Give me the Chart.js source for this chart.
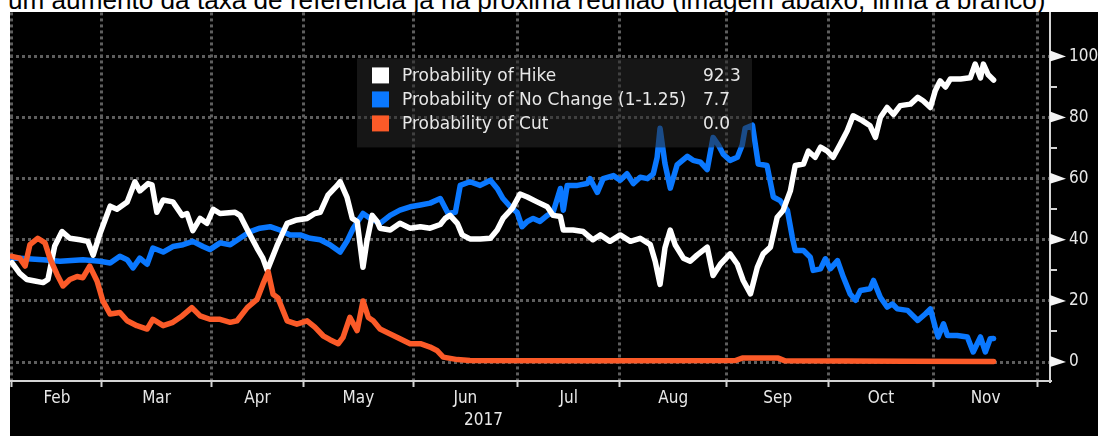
<!DOCTYPE html>
<html>
<head>
<meta charset="utf-8">
<script src="https://cdn.jsdelivr.net/npm/chart.js@4.4.0/dist/chart.umd.min.js"></script>
<style>
    html, body { margin: 0; padding: 0; background: #fff; width: 1098px; height: 436px; overflow: hidden; }
    #caption { position: absolute; left: 8px; top: -9px; font-family: "Liberation Sans", Arial, sans-serif; font-size: 22px; line-height: 22px; color: #000; white-space: nowrap; }
    #frame { position: absolute; left: 10px; top: 12px; width: 1088px; height: 424px; background: #000; }
</style>
</head>
<body>
<div id="caption">um aumento da taxa de referência já na próxima reunião (imagem abaixo, linha a branco)</div>
<div id="frame"><canvas id="chart" width="1088" height="424"></canvas></div>
<script>
'use strict';

// x values are trading days counted from 1 Feb 2017
const monthStarts = [0, 18.5, 41, 60, 82.5, 104, 125, 147, 168, 189.5, 211];
const monthNames = ['Feb', 'Mar', 'Apr', 'May', 'Jun', 'Jul', 'Aug', 'Sep', 'Oct', 'Nov'];
const yearLabel = '2017';
const yearPos = 97;

const yTicks = [0, 10, 20, 30, 40, 50, 60, 70, 80, 90, 100];
const yLabelled = [0, 20, 40, 60, 80, 100];

const seriesNames = ['Probability of Hike', 'Probability of No Change (1-1.25)', 'Probability of Cut'];
const lastValues = ['92.3', '7.7', '0.0'];

// Probability of Hike
const hike = [
    [0, 32.5], [1.6, 29], [3.1, 27], [4.7, 26.5], [6.4, 26], [7.4, 27], [8.8, 38], [10.3, 42.7], [11.9, 40.5],
    [14.0, 40], [15.6, 39.5], [16.7, 35], [18.1, 42], [20.2, 51], [21.6, 50], [23.7, 52.4], [25.3, 59], [26.3, 56],
    [28.0, 58.4], [28.8, 58], [29.8, 49], [31.1, 53], [33.1, 52.4], [35.0, 48], [36.0, 48.6], [37.2, 43], [38.7, 47],
    [40.1, 45.4], [41.4, 50], [42.8, 48.6], [45.9, 49], [46.9, 48], [48.6, 42.7], [50.4, 37.3], [51.6, 34], [52.5, 30],
    [54.5, 38], [56.6, 45.4], [58.6, 46.5], [60.7, 47], [62.3, 48.6], [63.4, 49], [65.0, 54.6], [66.9, 57.8], [67.5, 59],
    [68.9, 54], [70.0, 47], [71.0, 46], [72.2, 31], [73.0, 39.5], [74.1, 48], [75.1, 46], [75.7, 43.8], [77.8, 43.2],
    [79.8, 45.4], [81.9, 43.8], [84.0, 44.3], [86.0, 43.8], [88.1, 45], [89.1, 47], [90.1, 48], [91.6, 45.4], [92.6, 41.6],
    [94.2, 40.3], [96.3, 40.3], [98.4, 40.5], [99.8, 43.2], [101.0, 47], [102.9, 50.3], [104.5, 55], [106.0, 54],
    [108.0, 52.4], [110.1, 50.8], [111.3, 48], [112.8, 47.6], [113.4, 43.2], [115.4, 43.2], [117.5, 42.7], [119.5, 40],
    [121.0, 41.6], [123.0, 39.5], [125.1, 41.6], [127.2, 39.5], [129.2, 40.5], [131.3, 38.4], [132.3, 33], [133.3, 25.4],
    [134.3, 37.3], [135.4, 43.2], [136.4, 38.4], [138.1, 34], [139.5, 33], [140.9, 35], [143.0, 37.6], [144.2, 28.3],
    [145.7, 32], [147.7, 35.4], [149.2, 32], [150.4, 26.7], [151.9, 22.3], [153.3, 31], [154.5, 35.4], [156.0, 37.6],
    [157.4, 47.4], [158.6, 49.6], [160.1, 56], [161.1, 64.3], [162.8, 64.8], [163.8, 69], [165.2, 67], [166.3, 70.3],
    [167.7, 69], [168.9, 67], [170.4, 71.4], [171.8, 75.7], [173.0, 80.6], [174.9, 79], [176.5, 77.3], [177.6, 73.5],
    [178.6, 80], [180.0, 83.3], [181.3, 81], [182.7, 83.9], [184.8, 84.4], [186.3, 86.6], [187.4, 85.5], [188.9, 83.3],
    [189.9, 88.8], [190.9, 92], [192.0, 90], [193.0, 92.6], [195.1, 92.6], [197.1, 93], [198.1, 97.5], [199.2, 93],
    [199.8, 97.5], [200.8, 94], [201.9, 92.3]
];

// Probability of No Change (1-1.25)
const noChange = [
    [0, 34], [1.6, 34], [6.4, 33.5], [9.9, 33], [14.6, 33.5], [18.1, 33], [20.2, 32.4], [22.2, 34.6], [23.7, 33.5],
    [24.9, 30.8], [26.3, 34], [27.8, 32], [29.0, 37.3], [31.1, 36], [33.1, 37.8], [35.2, 38.4], [37.2, 39.5], [39.3, 37.8],
    [40.7, 36.8], [42.8, 39], [44.9, 38.4], [46.9, 40.5], [49.0, 42.7], [51.0, 43.8], [53.1, 44.3], [55.1, 43.2],
    [57.2, 41.6], [59.3, 41.6], [61.3, 40.5], [63.4, 40], [65.4, 38.4], [67.5, 36], [68.9, 39.5], [70.2, 43.8],
    [72.2, 48.6], [73.7, 47], [75.7, 45.4], [77.8, 48], [79.8, 49.7], [81.9, 50.8], [84.0, 51.4], [86.0, 52], [88.1, 53.5],
    [89.7, 48.6], [91.2, 49], [92.2, 57.8], [94.2, 59], [96.3, 57.8], [98.4, 59.5], [99.8, 56.8], [101.0, 53.5],
    [102.5, 50.8], [103.9, 49], [104.9, 44.3], [106.0, 46], [107.2, 47], [108.6, 46], [110.1, 48], [111.3, 49],
    [112.8, 56.8], [113.4, 49.7], [114.2, 57.8], [116.3, 57.8], [118.3, 58.4], [118.9, 60], [120.4, 55.5], [121.6, 60],
    [123.7, 61], [125.1, 59.5], [126.5, 61.6], [127.8, 58.4], [129.2, 60.5], [130.7, 60], [131.9, 61.6], [132.7, 67],
    [133.3, 76.5], [134.3, 65], [135.4, 56.9], [136.8, 64.5], [138.9, 67.3], [140.1, 66], [141.6, 65.4], [143.0, 63],
    [144.2, 73.5], [145.3, 71], [146.3, 68], [147.7, 66], [149.2, 67], [150.2, 71], [150.8, 76.5], [152.3, 77.5],
    [153.5, 64.8], [155.3, 64.3], [156.6, 54], [158.0, 52.8], [159.5, 49.6], [160.5, 40.8], [161.1, 36.5], [162.8, 36.5],
    [164.2, 34.3], [164.8, 30], [166.3, 30.5], [167.3, 33.8], [168.3, 30.5], [169.8, 33.2], [171.0, 27.8], [172.4, 22.3],
    [173.5, 20.2], [174.5, 23.4], [176.5, 24], [177.2, 26.7], [178.6, 21.2], [180.0, 18], [181.1, 19], [182.1, 17.4],
    [184.2, 16.9], [186.3, 13.6], [187.9, 15.8], [188.9, 17.4], [189.9, 11.4], [190.5, 8.2], [191.6, 12.5], [192.4, 8.7],
    [194.4, 8.7], [196.5, 8.2], [197.7, 3.3], [199.2, 8.2], [200.2, 3.3], [201.2, 7.6], [201.9, 7.7]
];

// Probability of Cut
const cut = [
    [0, 34.6], [1.6, 34], [2.7, 31.4], [3.7, 38.4], [5.3, 40.5], [6.8, 39], [7.8, 34], [9.3, 28.6], [10.5, 24.9],
    [11.9, 27], [13.4, 28], [14.6, 27.6], [16.0, 31.4], [17.5, 26.5], [18.7, 20], [20.2, 15.7], [22.2, 16.2], [23.7, 13.5],
    [25.7, 11.9], [27.8, 10.8], [29.0, 14], [31.1, 11.9], [33.1, 13], [35.0, 15.1], [37.0, 17.8], [38.7, 15.1], [40.7, 14],
    [42.8, 14], [44.9, 13], [46.3, 13.5], [48.4, 17.8], [50.4, 20.5], [51.6, 25.4], [52.7, 29.5], [53.7, 22.2], [54.7, 21],
    [56.6, 13.5], [58.6, 12.4], [60.7, 13.5], [62.3, 11.4], [64.0, 8.6], [65.4, 7.3], [67.1, 6], [68.1, 8.1], [69.5, 14.6],
    [71.0, 10.3], [72.2, 20], [73.3, 14.6], [74.3, 13.5], [75.7, 10.8], [77.8, 9.2], [79.8, 7.6], [81.9, 6], [84.0, 6],
    [86.0, 4.9], [87.4, 3.8], [88.7, 1.6], [91.6, 0.8], [94.2, 0.5], [121.0, 0.4], [148.8, 0.5], [150.2, 1.3],
    [157.6, 1.3], [159.0, 0.4], [184.0, 0.3], [201.9, 0.2]
];

const colors = {
    hike: '#ffffff',
    noChange: '#0a78ff',
    cut: '#fb5a28',
    grid: '#5e5e5e',
    axis: '#d4d4d4',
    text: '#e8e8e8',
};

const axisFont = "'DejaVu Sans Condensed', 'DejaVu Sans', sans-serif";
const legendFont = "'DejaVu Sans', sans-serif";

// fit the clipped caption line to its width in the picture
let caption = document.getElementById('caption');
let capSize = 22 * 1038 / caption.getBoundingClientRect().width;
caption.style.fontSize = capSize.toFixed(2) + 'px';
caption.style.lineHeight = capSize.toFixed(2) + 'px';
caption.style.top = (9.5 - capSize * 0.8465).toFixed(2) + 'px';

let toPoints = function (arr) {
    return arr.map(p => ({ x: p[0], y: p[1] }));
};

let lineStyle = {
    borderWidth: 5.5,
    pointRadius: 0,
    tension: 0,
    fill: false,
    borderJoinStyle: 'round',
    borderCapStyle: 'round',
};

// tick marks and triangles on the value axis, the year under the months, the legend box
const decorations = {
    id: 'decorations',
    afterDatasetsDraw(chart) {
        let ctx = chart.ctx;
        let area = chart.chartArea;
        let bx = area.left + 347, by = area.top + 46;
        ctx.save();
        ctx.fillStyle = 'rgba(40, 40, 40, 0.55)';
        ctx.fillRect(bx, by, 395, 89);
        let swatches = [colors.hike, colors.noChange, colors.cut];
        ctx.font = '17px ' + legendFont;
        ctx.textBaseline = 'middle';
        ctx.textAlign = 'left';
        for (let i = 0; i < seriesNames.length; i++) {
            let cy = by + 17 + i * 24;
            ctx.fillStyle = swatches[i];
            ctx.fillRect(bx + 15, cy - 8, 17, 16);
            ctx.fillStyle = colors.text;
            ctx.fillText(seriesNames[i], bx + 45, cy + 1);
            ctx.fillText(lastValues[i], bx + 346, cy + 1);
        }
        ctx.restore();
    },
    afterDraw(chart) {
        let ctx = chart.ctx;
        let x = chart.scales.x;
        let y = chart.scales.y;
        ctx.save();
        ctx.strokeStyle = colors.axis;
        ctx.lineWidth = 2;
        yTicks.forEach(v => {
            let py = Math.round(y.getPixelForValue(v));
            ctx.beginPath();
            ctx.moveTo(y.left, py);
            ctx.lineTo(y.left + 7, py);
            ctx.stroke();
        });
        ctx.fillStyle = '#f4f4f4';
        yLabelled.forEach(v => {
            let py = y.getPixelForValue(v);
            ctx.beginPath();
            ctx.moveTo(y.left, py - 6);
            ctx.lineTo(y.left + 16, py);
            ctx.lineTo(y.left, py + 5);
            ctx.closePath();
            ctx.fill();
        });
        ctx.fillStyle = colors.text;
        ctx.font = '17px ' + axisFont;
        ctx.textAlign = 'center';
        ctx.textBaseline = 'middle';
        ctx.fillText(yearLabel, x.getPixelForValue(yearPos), chart.chartArea.bottom + 40);
        ctx.restore();
    }
};

let ctx = document.getElementById('chart').getContext('2d');
let myChart = new Chart(ctx, {
    type: 'line',
    data: {
        datasets: [
            Object.assign({ label: seriesNames[0], data: toPoints(hike), borderColor: colors.hike, order: 1 }, lineStyle),
            Object.assign({ label: seriesNames[1], data: toPoints(noChange), borderColor: colors.noChange, order: 2 }, lineStyle),
            Object.assign({ label: seriesNames[2], data: toPoints(cut), borderColor: colors.cut, order: 0 }, lineStyle),
        ]
    },
    options: {
        responsive: false,
        animation: false,
        devicePixelRatio: 1,
        layout: { padding: 0 },
        plugins: {
            legend: { display: false },
            tooltip: { enabled: false },
        },
        scales: {
            x: {
                type: 'linear',
                position: 'bottom',
                min: -0.4,
                max: 213.5,
                weight: 0,
                afterBuildTicks: s => { s.ticks = monthStarts.map(v => ({ value: v })); },
                afterFit: s => { s.height = 7; },
                ticks: { display: false, autoSkip: false },
                grid: { color: colors.grid, lineWidth: 3, drawTicks: true, tickLength: 6, tickColor: colors.axis, tickWidth: 2 },
                border: { display: true, color: colors.axis, width: 2, dash: [3, 3] },
            },
            xm: {
                type: 'linear',
                position: 'bottom',
                min: -0.4,
                max: 213.5,
                weight: 1,
                afterBuildTicks: s => {
                    s.ticks = monthNames.map((m, i) => ({ value: (monthStarts[i] + monthStarts[i + 1]) / 2 }));
                },
                afterFit: s => { s.height = 48; },
                ticks: {
                    autoSkip: false,
                    maxRotation: 0,
                    padding: 0,
                    color: colors.text,
                    font: { family: axisFont, size: 17 },
                    callback: (v, i) => monthNames[i],
                },
                grid: { display: false, drawTicks: false },
                border: { display: false },
            },
            y: {
                type: 'linear',
                position: 'right',
                min: -6.2,
                max: 114.4,
                afterBuildTicks: s => { s.ticks = yTicks.map(v => ({ value: v })); },
                afterFit: s => { s.width = 48; },
                ticks: {
                    autoSkip: false,
                    padding: 0,
                    color: colors.text,
                    // tiny line height keeps the top label from pushing the plot area down
                    font: { family: axisFont, size: 17, lineHeight: 0.05 },
                    callback: v => (yLabelled.includes(v) ? String(v) : ''),
                },
                grid: {
                    color: c => (c.tick && yLabelled.includes(c.tick.value) ? colors.grid : 'rgba(0,0,0,0)'),
                    lineWidth: 3,
                    drawTicks: true,
                    tickLength: 19,
                    tickColor: 'rgba(0,0,0,0)',
                },
                border: { display: true, color: colors.axis, width: 2, dash: [3, 3] },
            },
        },
    },
    plugins: [decorations],
});
</script>
</body>
</html>
